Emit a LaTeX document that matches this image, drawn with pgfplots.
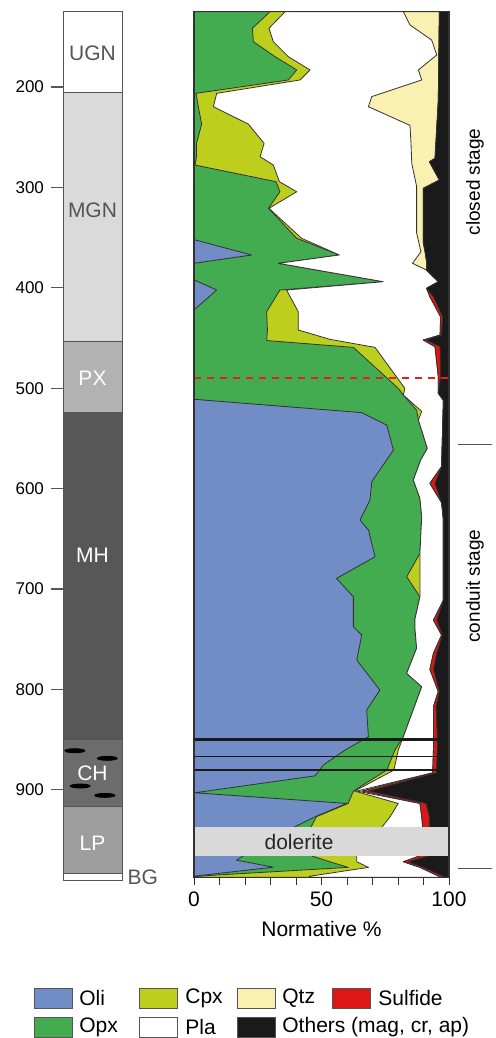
\documentclass[border=0pt]{standalone}
\usepackage{fontspec}
\setmainfont{Liberation Sans}
\usepackage{pgfplots}
\pgfplotsset{compat=1.18}

\definecolor{oli}{RGB}{114,141,198}
\definecolor{opx}{RGB}{67,172,80}
\definecolor{cpx}{RGB}{190,206,28}
\definecolor{qtz}{RGB}{249,240,178}
\definecolor{sulf}{RGB}{222,22,22}
\definecolor{oth}{RGB}{26,26,26}
\definecolor{edge}{RGB}{50,50,50}
\definecolor{colline}{RGB}{85,85,85}
\definecolor{mgn}{RGB}{218,218,218}
\definecolor{pxc}{RGB}{178,178,178}
\definecolor{mhc}{RGB}{87,87,87}
\definecolor{chc}{RGB}{108,108,108}
\definecolor{lpc}{RGB}{157,157,157}
\definecolor{dol}{RGB}{217,217,217}
\definecolor{txtgray}{RGB}{85,85,85}
\definecolor{dashred}{RGB}{230,30,30}

\begin{document}
\begin{tikzpicture}
\useasboundingbox (0,0) rectangle (247.5pt,-519pt);

% ---------------- stratigraphic column ----------------
\begin{axis}[
  at={(31.5pt,-5.85pt)}, anchor=north west,
  scale only axis, width=29.5pt, height=434.25pt,
  xmin=0, xmax=1, ymin=125, ymax=990, y dir=reverse,
  hide x axis, axis y line*=left,
  y axis line style={draw=none},
  ytick={200,300,400,500,600,700,800,900},
  ytick style={draw=colline, line width=0.6pt},
  tick align=outside, major tick length=6pt,
  yticklabel style={font=\fontsize{8.5}{10}\selectfont},
  /pgf/number format/assume math mode=true,
  clip=false,
]
\addplot[fill=white, draw=colline, line width=0.5pt] coordinates {(0,125)(1,125)(1,205.7)(0,205.7)} -- cycle;
\addplot[fill=mgn, draw=colline, line width=0.5pt] coordinates {(0,205.7)(1,205.7)(1,453.7)(0,453.7)} -- cycle;
\addplot[fill=pxc, draw=colline, line width=0.5pt] coordinates {(0,453.7)(1,453.7)(1,524.4)(0,524.4)} -- cycle;
\addplot[fill=mhc, draw=colline, line width=0.5pt] coordinates {(0,524.4)(1,524.4)(1,849.7)(0,849.7)} -- cycle;
\addplot[fill=chc, draw=colline, line width=0.5pt] coordinates {(0,849.7)(1,849.7)(1,916.8)(0,916.8)} -- cycle;
\addplot[fill=lpc, draw=colline, line width=0.5pt] coordinates {(0,916.8)(1,916.8)(1,983.2)(0,983.2)} -- cycle;
\addplot[fill=white, draw=colline, line width=0.5pt] coordinates {(0,983.2)(1,983.2)(1,989.8)(0,989.8)} -- cycle;
\addplot[only marks, mark=*, mark size=1pt, mark options={xscale=5, fill=black, draw=none}]
  coordinates {(0.20,861) (0.75,868.6) (0.29,896.2) (0.71,905.5)};
\node[text=txtgray, font=\fontsize{10.5}{12}\selectfont] at (axis cs:0.5,166) {UGN};
\node[text=txtgray, font=\fontsize{10.5}{12}\selectfont] at (axis cs:0.5,323) {MGN};
\node[text=white, font=\fontsize{10.5}{12}\selectfont] at (axis cs:0.5,490) {PX};
\node[text=white, font=\fontsize{10.5}{12}\selectfont] at (axis cs:0.5,666) {MH};
\node[text=white, font=\fontsize{10.5}{12}\selectfont] at (axis cs:0.5,883) {CH};
\node[text=white, font=\fontsize{10.5}{12}\selectfont] at (axis cs:0.5,953) {LP};
\node[text=txtgray, font=\fontsize{10.5}{12}\selectfont, anchor=west, inner sep=0pt] at (axis cs:1.09,987) {BG};
\end{axis}

% ---------------- normative mineralogy ----------------
\begin{axis}[
  at={(97pt,-5.85pt)}, anchor=north west,
  scale only axis, width=127.5pt, height=432.75pt,
  xmin=0, xmax=100, ymin=125, ymax=987, y dir=reverse,
  ytick=\empty,
  xtick={0,50,100}, minor xtick={10,20,30,40,60,70,80,90},
  xtick pos=left,
  tick align=outside, major tick length=4pt, minor tick length=4pt,
  every tick/.style={draw=edge, line width=0.5pt},
  xticklabel style={font=\fontsize{10.5}{12}\selectfont},
  xlabel={Normative \%},
  xlabel style={font=\fontsize{10.5}{12}\selectfont},
  axis line style={draw=edge, line width=0.6pt},
  axis on top,
  /pgf/number format/assume math mode=true,
  every axis plot/.append style={line join=round},
]
% Oli (whole field, later layers cover it)
\addplot[fill=oli, draw=none] coordinates {(0,125)(100,125)(100,987)(0,987)} -- cycle;
% Opx: right of Oli boundary
\addplot[fill=opx, draw=edge, line width=0.4pt] coordinates {(100,125)
 (0,125) (0,352) (22.6,367.3) (0,375.6) (0,392) (8.9,402.2) (0,422) (0,511)
 (65.8,524.3) (75.6,536.7) (78.2,561.6) (69.7,593) (69.0,611.4) (65.1,631.3)
 (68.4,641.2) (71.0,667.8) (55.9,689.4) (62.5,707.7) (62.5,737.6) (65.8,745.8)
 (63.8,770.7) (72.9,800.6) (67.7,820.5) (68.4,847.1) (59.2,860.4) (50.7,875.3)
 (47.5,886) (0.3,902.9) (59.9,913.5) (47.5,926.8) (39.0,937.4) (19.3,965.7)
 (16.7,970) (31.1,977) (0,986) (0,987)
 (100,987)} -- cycle;
% Cpx: right of Oli+Opx boundary
\addplot[fill=cpx, draw=edge, line width=0.4pt] coordinates {(100,125)
 (29.8,125) (22.9,141.5) (23.3,154.9) (31.8,169.8) (40.3,183) (37.0,193)
 (0.8,206.3) (1.7,219.6) (3.0,236.9) (1.0,256.1) (1.0,269.4) (0.4,277.7)
 (32.2,294.3) (33.7,304.3) (29.2,320.8) (40.3,350.7) (57.0,367.3) (33.1,375.6)
 (74.2,393.9) (33.7,402.2) (28.5,423.8) (28.8,442) (28.5,452.5) (62.5,459.3)
 (80.1,500.1) (82.1,506.8) (87.3,521.7) (88.0,531.7) (91.5,559.9) (88.9,571.5)
 (86.0,591.4) (88.6,609.7) (89.3,628) (88.6,664.5) (83.4,687.7) (88.6,707.7)
 (86.7,729.2) (86.7,740.8) (87.3,759) (83.4,784) (89.3,797.3) (82.1,847.1)
 (78.8,860.4) (75.6,880.3) (62.5,901.2) (60.5,913.5) (48.0,926.8) (45.8,937.4)
 (46.1,965.7) (53.3,971.6) (60.5,977.2) (1,986) (0,987)
 (100,987)} -- cycle;
% Pla: right of Cpx boundary
\addplot[fill=white, draw=edge, line width=0.4pt] coordinates {(100,125)
 (35.7,125) (29.4,141.5) (31.1,154.9) (37.0,169.8) (45.5,183) (41.6,193)
 (8.9,206.3) (7.6,219.6) (21.3,236.9) (27.5,256.1) (25.9,269.4) (31.1,277.7)
 (33.5,294.3) (40.3,304.3) (29.4,320.8) (42.2,350.7) (57.0,367.3) (33.1,375.6)
 (74.2,393.9) (36.3,402.2) (40.9,423.8) (40.9,442) (53.3,451.3) (71.0,459.3)
 (82.7,500.1) (82.1,506.8) (89.3,523) (88.0,531.7) (91.5,559.9) (88.9,571.5)
 (86.0,591.4) (88.6,609.7) (89.3,628) (88.6,664.5) (88.6,687.7) (88.6,707.7)
 (86.7,729.2) (86.7,740.8) (87.3,759) (83.4,784) (89.3,797.3) (82.1,847.1)
 (80.1,860.4) (78.4,880.3) (63.0,901.2) (80.1,913.5) (76.9,926.8) (73.6,937.4)
 (63.8,965.7) (63.8,971.6) (68.4,977.2) (45.5,986) (45,987)
 (100,987)} -- cycle;
% Qtz: right of Pla boundary
\addplot[fill=qtz, draw=edge, line width=0.4pt] coordinates {(100,125)
 (82.1,125) (84.7,138.2) (93.2,153.2) (95.2,168.1) (88.0,183) (89.3,193)
 (69.7,209.6) (68.4,219.6) (84.7,238.2) (85.1,256.1) (85.4,276) (87.3,299)
 (87.3,345.4) (89.0,364) (85.7,375.6) (91.2,382.3) (95.8,393.9) (91.2,400.5)
 (92.5,408.9) (96.7,428.8) (96.5,447) (89.9,452) (94.5,458.6) (95.8,488.5)
 (95.8,505) (97.8,512) (97.1,578) (92.5,594.7) (97.1,614) (97.8,631) (97.8,711)
 (93.9,731) (97.1,745.8) (93.9,764) (92.5,780) (95.8,802) (93.9,817) (93.9,847)
 (93.9,860) (93.6,883) (63.8,901.2) (88.6,913.5) (89.3,926.8) (89.7,937.4)
 (88.6,965.7) (82.1,971.6) (88.6,977.2) (96,986) (96,987)
 (100,987)} -- cycle;
% Sulfide: right of Qtz boundary
\addplot[fill=sulf, draw=edge, line width=0.4pt] coordinates {(100,125)
 (96.2,125) (96.0,170) (95.8,213) (94.5,271) (92.3,274.4) (96.2,292.6)
 (89.9,300.9) (89.9,355) (90.6,364) (91.3,375.6) (91.2,382.3) (95.8,393.9)
 (91.2,400.5) (92.5,408.9) (96.7,428.8) (96.5,447) (89.9,452) (94.5,458.6)
 (95.8,488.5) (95.8,505) (97.8,512) (97.1,578) (92.5,594.7) (97.1,614)
 (97.8,631) (97.8,711) (93.9,731) (97.1,745.8) (93.9,764) (92.5,780)
 (95.8,802) (93.9,817) (93.9,847) (93.9,860) (93.6,883) (65.8,901.2)
 (88.6,913.5) (89.3,926.8) (89.7,937.4) (88.6,965.7) (82.1,971.6) (88.6,977.2)
 (96,986) (96,987)
 (100,987)} -- cycle;
% Others: right of Sulfide boundary
\addplot[fill=oth, draw=edge, line width=0.4pt] coordinates {(100,125)
 (96.2,125) (96.0,170) (95.8,213) (94.5,271) (92.3,274.4) (96.2,292.6)
 (89.9,300.9) (89.9,355) (90.6,364) (91.3,375.6) (91.2,382.3) (95.8,393.9)
 (91.2,400.5) (93.9,408.9) (97.5,428.8) (97.0,447) (91.0,452) (96.5,458.6)
 (96.7,488.5) (95.8,505) (97.8,512) (97.1,578) (94.5,594.7) (97.1,614)
 (97.8,631) (97.8,711) (95.2,731) (97.4,745.8) (95.2,764) (93.9,780)
 (96.2,802) (94.9,817) (95.4,847) (95.4,860) (95.1,883) (68.4,901.2)
 (91.0,913.5) (92.3,926.8) (92.3,937.4) (91.9,965.7) (84.0,971.6) (89.9,977.2)
 (97.5,986) (97.5,987)
 (100,987)} -- cycle;
% dolerite band
\addplot[fill=dol, draw=none] coordinates {(0,937.4)(100,937.4)(100,965.7)(0,965.7)} -- cycle;
\node[font=\fontsize{10.5}{12}\selectfont, text=black!85] at (axis cs:41.2,951.5) {dolerite};
% horizontal lines in CH
\addplot[color=oth, line width=1.6pt] coordinates {(0,849.7)(96,849.7)};
\addplot[color=oth, line width=0.9pt] coordinates {(0,866.7)(96,866.7)};
\addplot[color=oth, line width=0.9pt] coordinates {(0,880.3)(96,880.3)};
% red dashed line
\addplot[color=dashred, line width=1.2pt, dash pattern=on 3.5pt off 3pt] coordinates {(0,489.8)(100,489.8)};
\end{axis}

% stage annotations
\draw[colline, line width=0.5pt] (229pt,-222pt) -- (246pt,-222pt);
\draw[colline, line width=0.5pt] (229pt,-434pt) -- (246pt,-434pt);
\node[rotate=90, font=\fontsize{9.5}{11}\selectfont] at (237.5pt,-91pt) {closed stage};
\node[rotate=90, font=\fontsize{9.5}{11}\selectfont] at (237.5pt,-293pt) {conduit stage};

% legend
\tikzset{sw/.style={draw=colline, line width=0.5pt, minimum width=19pt, minimum height=10pt, inner sep=0pt, anchor=west},
         lt/.style={font=\fontsize{10.5}{12}\selectfont, anchor=west, inner sep=0pt}}
\node[sw, fill=oli] at (17pt,-499pt) {};   \node[lt] at (39.5pt,-499pt) {Oli};
\node[sw, fill=cpx] at (69.5pt,-499pt) {}; \node[lt] at (92.5pt,-499pt) {Cpx};
\node[sw, fill=qtz] at (118.5pt,-499pt) {}; \node[lt] at (141pt,-499pt) {Qtz};
\node[sw, fill=sulf] at (166pt,-499pt) {}; \node[lt] at (189pt,-499pt) {Sulfide};
\node[sw, fill=opx] at (17pt,-513.5pt) {};   \node[lt] at (39.5pt,-513.5pt) {Opx};
\node[sw, fill=white] at (69.5pt,-513.5pt) {}; \node[lt] at (92.5pt,-513.5pt) {Pla};
\node[sw, fill=oth] at (118.5pt,-513.5pt) {}; \node[lt] at (141pt,-513.5pt) {Others (mag, cr, ap)};
\end{tikzpicture}
\end{document}
